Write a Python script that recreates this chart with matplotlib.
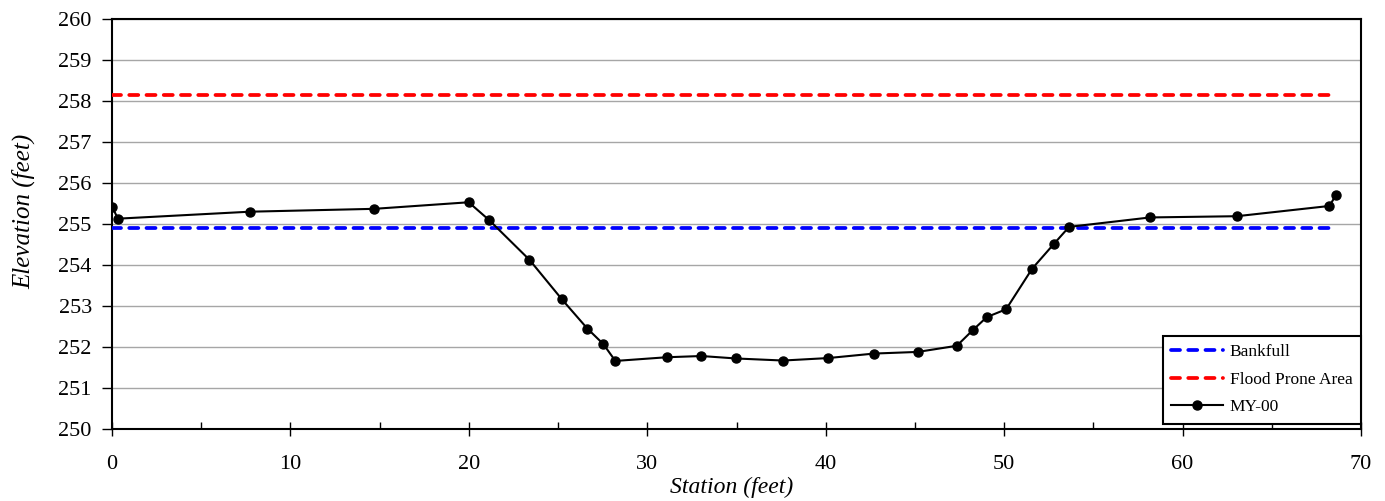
import matplotlib
matplotlib.use("Agg")
import matplotlib.pyplot as plt
from matplotlib.ticker import MultipleLocator

plt.rcParams['font.family'] = ['Liberation Serif', 'DejaVu Serif']

station = [0.02, 0.33, 7.72, 14.70, 19.99, 21.15, 23.39, 25.22, 26.64, 27.54,
           28.21, 31.09, 33.03, 34.98, 37.61, 40.13, 42.71, 45.16, 47.35, 48.24,
           49.03, 50.11, 51.57, 52.80, 53.64, 58.18, 63.04, 68.23, 68.59]
elevation = [255.41, 255.13, 255.30, 255.37, 255.53, 255.09, 254.13, 253.16, 252.45, 252.07,
             251.66, 251.75, 251.78, 251.72, 251.67, 251.73, 251.84, 251.88, 252.03, 252.41,
             252.73, 252.92, 253.91, 254.52, 254.93, 255.16, 255.19, 255.44, 255.70]

bankfull_x = [0.0, 68.59]
bankfull_y = [254.91, 254.91]
flood_x = [0.0, 68.59]
flood_y = [258.15, 258.15]

x_ticks = [0, 10, 20, 30, 40, 50, 60, 70]
y_ticks = [250, 251, 252, 253, 254, 255, 256, 257, 258, 259, 260]

W, H = 1385, 501
fig = plt.figure(figsize=(W / 100, H / 100), dpi=100)
ax = fig.add_axes([112 / W, 1 - 429 / H, (1361 - 112) / W, (429 - 19) / H])

ax.plot(bankfull_x, bankfull_y, color='#0000ff', lw=2.7, linestyle=(0, (2.4, 2.2)),
        dash_capstyle='round', label='Bankfull', zorder=3)
ax.plot(flood_x, flood_y, color='#ff0000', lw=2.7, linestyle=(0, (2.4, 2.2)),
        dash_capstyle='round', label='Flood Prone Area', zorder=3)
ax.plot(station, elevation, color='black', lw=1.5, marker='o', markersize=6.5,
        label='MY-00', zorder=4)

ax.set_xlim(0, 70)
ax.set_ylim(250, 260)
ax.set_xticks(x_ticks)
ax.set_yticks(y_ticks)
ax.xaxis.set_minor_locator(MultipleLocator(5))
ax.yaxis.grid(True, color='#a6a6a6', lw=1.0, zorder=0)
ax.set_axisbelow(True)

ax.tick_params(axis='y', which='major', direction='out', length=7, width=1,
               labelsize=16, pad=7.5)
ax.tick_params(axis='x', which='major', direction='inout', length=10, width=1,
               labelsize=16, pad=14)
ax.tick_params(axis='x', which='minor', direction='in', length=5, width=1)

for s in ax.spines.values():
    s.set_linewidth(1.5)
    s.set_color('black')

fig.text(731.7 / W, 1 - 487 / H, 'Station (feet)', fontsize=17, style='italic',
         ha='center', va='center')
fig.text(24 / W, 1 - 211 / H, 'Elevation (feet)', fontsize=18, style='italic',
         ha='center', va='center', rotation=90)

leg = ax.legend(loc='lower right', bbox_to_anchor=(1.0, 5 / 410), fontsize=12.5,
                frameon=True, fancybox=False, edgecolor='black', framealpha=1,
                handlelength=3.0, borderaxespad=0.0, labelspacing=0.65,
                borderpad=0.5, handletextpad=0.35)
leg.get_frame().set_linewidth(1.5)

fig.savefig('out.png', dpi=100)
